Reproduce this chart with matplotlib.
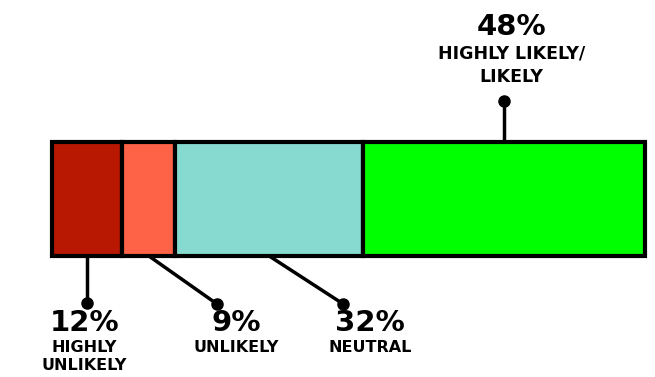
import matplotlib.pyplot as plt

# survey answer shares, in percent, left to right
answers = ["HIGHLY\nUNLIKELY", "UNLIKELY", "NEUTRAL", "HIGHLY LIKELY/\nLIKELY"]
shares = [12, 9, 32, 48]
colors = ["#b81702", "#ff6347", "#87dacf", "#00ff00"]

# where each callout dot and its text sit (x in percent units, y in pixels from top)
dot_x = [6.0, 28.1, 49.6, 77.0]
dot_y = [303, 304, 304, 101]
text_x = [5.5, 31.3, 54.2, 78.3]
pct_base = [331, 331, 331, 35]
label_base = [352, 352, 352, 58]
line_gap = [18, 18, 18, 24]
label_size = [11.5, 11.5, 11.5, 12.5]

W, H = 655, 377
bar_left, bar_right = 52, 645
bar_top, bar_bottom = 142, 256

total = sum(shares)
px_per_pct = (bar_right - bar_left) / total

fig = plt.figure(figsize=(W / 100, H / 100), dpi=100)
ax = fig.add_axes([0, 0, 1, 1])
ax.set_xlim(-bar_left / px_per_pct, (W - bar_left) / px_per_pct)
ax.set_ylim(H, 0)
ax.axis("off")

# stacked bar
lefts = [sum(shares[:i]) for i in range(len(shares))]
ax.barh((bar_top + bar_bottom) / 2, shares, left=lefts, height=bar_bottom - bar_top,
        color=colors, edgecolor="black", linewidth=3, zorder=2)

font = dict(family="DejaVu Sans", weight="bold", color="black", ha="center", va="baseline")

for i, (share, name) in enumerate(zip(shares, answers)):
    mid = lefts[i] + share / 2
    # callouts below the bar, except the last one which goes above
    anchor_y = bar_bottom if dot_y[i] > bar_bottom else bar_top
    ax.plot([mid, dot_x[i]], [anchor_y, dot_y[i]], color="black", lw=2.5,
            solid_capstyle="butt", zorder=1)
    ax.plot(dot_x[i], dot_y[i], "o", color="black", ms=8, zorder=3)

    ax.text(text_x[i], pct_base[i], f"{share}%", fontsize=21, **font)
    for j, line in enumerate(name.split("\n")):
        ax.text(text_x[i], label_base[i] + j * line_gap[i], line,
                fontsize=label_size[i], **font)

fig.savefig("out.png", dpi=100, facecolor="white")
